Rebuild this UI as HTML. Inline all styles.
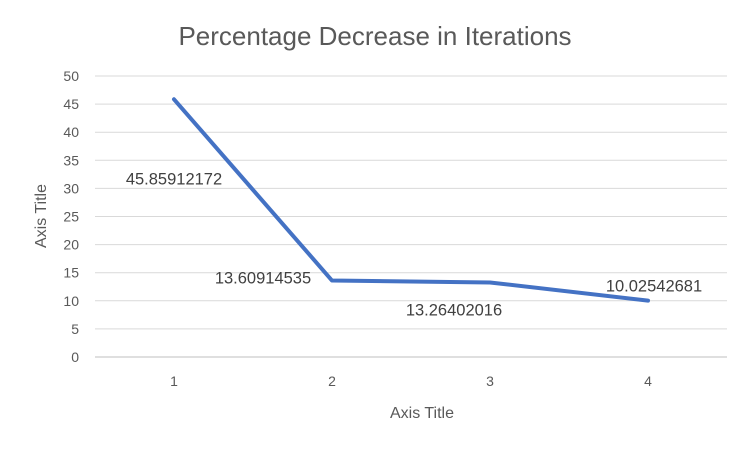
<!DOCTYPE html>
<html><head><meta charset="utf-8">
<style>
body{margin:0;background:#fff;}
svg{display:block;font-family:"Liberation Sans",Calibri,sans-serif;}
</style></head><body>
<svg width="750" height="450">
<rect width="750" height="450" fill="#fff"/>
<text x="375" y="45" text-anchor="middle" font-size="26" fill="#595959">Percentage Decrease in Iterations</text>
<g id="grid"></g>
<g id="yticks"></g>
<g id="xticks"></g>
<path id="line" fill="none" stroke="#4472C4" stroke-width="4" stroke-linejoin="round" stroke-linecap="round"/>
<g id="labels"></g>
<text x="422" y="418" text-anchor="middle" font-size="16" fill="#595959">Axis Title</text>
<text transform="translate(46,216) rotate(-90)" text-anchor="middle" font-size="16" fill="#595959">Axis Title</text>
</svg>
<script>
const categories = ["1","2","3","4"];
const values = [45.85912172, 13.60914535, 13.26402016, 10.02542681];
const valueLabels = ["45.85912172","13.60914535","13.26402016","10.02542681"];
const yTicks = [0,5,10,15,20,25,30,35,40,45,50];
const NS="http://www.w3.org/2000/svg";
const plotLeft=95,plotRight=727,plotTop=76,plotBottom=357,yMax=50;
const slot=(plotRight-plotLeft)/categories.length;
const xs=i=>plotLeft+slot*(i+0.5);
const ys=v=>plotBottom-(v/yMax)*(plotBottom-plotTop);
const grid=document.getElementById('grid'),yt=document.getElementById('yticks'),xt=document.getElementById('xticks'),lab=document.getElementById('labels');
yTicks.forEach(t=>{
 const l=document.createElementNS(NS,'line');
 l.setAttribute('x1',plotLeft);l.setAttribute('x2',plotRight);l.setAttribute('y1',ys(t));l.setAttribute('y2',ys(t));
 l.setAttribute('stroke',t===0?'#BFBFBF':'#D9D9D9');l.setAttribute('stroke-width','1');
 
 
 grid.appendChild(l);
 const tx=document.createElementNS(NS,'text');
 tx.setAttribute('x',79);tx.setAttribute('y',ys(t)+5);tx.setAttribute('text-anchor','end');tx.setAttribute('font-size','14');tx.setAttribute('fill','#595959');
 tx.textContent=t;
 
 
 yt.appendChild(tx);
});
categories.forEach((c,i)=>{
 const tx=document.createElementNS(NS,'text');
 tx.setAttribute('x',xs(i));tx.setAttribute('y',386);tx.setAttribute('text-anchor','middle');tx.setAttribute('font-size','14');tx.setAttribute('fill','#595959');
 tx.textContent=c;
 
 
 xt.appendChild(tx);
});
document.getElementById('line').setAttribute('d',values.map((v,i)=>(i?'L':'M')+xs(i)+' '+ys(v)).join(' '));
values.forEach((v,i)=>{
 const tx=document.createElementNS(NS,'text');
 let x=xs(i),y=ys(v);
 if(i===0){y+=80;}
 else if(i===1){x-=69;y+=-2;}
 else if(i===2){x-=36;y+=28;}
 else {x+=6;y-=14;}
 tx.setAttribute('x',x);tx.setAttribute('y',y+5);tx.setAttribute('text-anchor','middle');tx.setAttribute('font-size','16.5');tx.setAttribute('fill','#404040');
 tx.textContent=valueLabels[i];
 
 
 lab.appendChild(tx);
});
</script>
</body></html>
